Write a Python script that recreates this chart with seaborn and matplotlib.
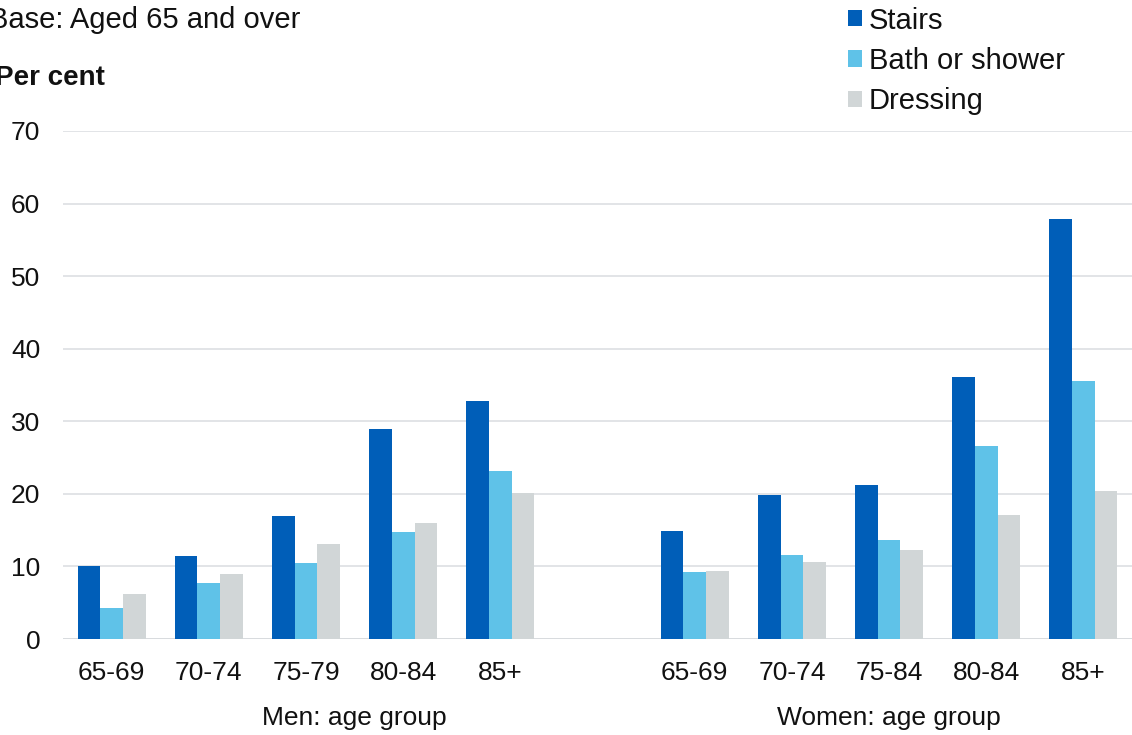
import matplotlib
matplotlib.use("Agg")
import matplotlib.pyplot as plt
import seaborn as sns
import pandas as pd

# Share of people aged 65+ who have difficulty with each activity (per cent)
men_groups = ["65-69", "70-74", "75-79", "80-84", "85+"]
women_groups = ["65-69", "70-74", "75-84", "80-84", "85+"]
activities = ["Stairs", "Bath or shower", "Dressing"]

men_stairs = [10.1, 11.5, 17.0, 28.9, 32.8]
men_bath = [4.3, 7.7, 10.5, 14.7, 23.2]
men_dressing = [6.2, 8.9, 13.1, 16.0, 20.1]

women_stairs = [14.9, 19.8, 21.2, 36.1, 57.9]
women_bath = [9.3, 11.6, 13.6, 26.6, 35.5]
women_dressing = [9.4, 10.6, 12.3, 17.1, 20.4]

colors = ["#005EB8", "#5FC2E8", "#D1D6D7"]

# Long-format table; each bar slot gets a unique key so both sexes share one axis
rows = []
for sex, groups, series in [
    ("Men", men_groups, [men_stairs, men_bath, men_dressing]),
    ("Women", women_groups, [women_stairs, women_bath, women_dressing]),
]:
    for act, vals in zip(activities, series):
        for g, v in zip(groups, vals):
            rows.append({"slot": f"{sex} {g}", "activity": act, "value": v})
df = pd.DataFrame(rows)

order = [f"Men {g}" for g in men_groups] + ["gap"] + [f"Women {g}" for g in women_groups]
tick_labels = men_groups + [""] + women_groups

sns.set_theme(style="white")
plt.rcParams["font.family"] = ["Liberation Sans", "DejaVu Sans"]

fig = plt.figure(figsize=(11.32, 7.35), dpi=100)
ax = fig.add_axes([0.0557, 0.1306, 0.9443, 0.6912])

sns.barplot(
    data=df, x="slot", y="value", hue="activity",
    order=order, hue_order=activities, palette=colors,
    width=0.7, saturation=1, ax=ax, legend=True,
    linewidth=0, errorbar=None,
)

ax.set_ylim(0, 70)
ax.set_xlim(-0.5, len(order) - 0.5)
ax.set_yticks(range(0, 71, 10))
ax.yaxis.grid(True, color="#DADDE0", linewidth=1.1)
ax.set_axisbelow(True)
for s in ax.spines.values():
    s.set_visible(False)
ax.axhline(0, color="#D0D3D6", linewidth=1.3, zorder=0)

ax.set_xticks(range(len(order)))
ax.set_xticklabels(tick_labels)
ax.tick_params(axis="both", length=0, labelsize=19, labelcolor="#111111")
ax.tick_params(axis="x", pad=16)
ax.tick_params(axis="y", pad=16.5)
ax.set_xlabel("")
ax.set_ylabel("")

# Group captions under each block of age bands
ax.text(2.5, -0.155, "Men: age group", transform=ax.get_xaxis_transform(),
        ha="center", va="center", fontsize=19, color="#111111")
ax.text(8.0, -0.155, "Women: age group", transform=ax.get_xaxis_transform(),
        ha="center", va="center", fontsize=19, color="#111111")

fig.text(-11 / 1132, 1 - 20 / 735, "Base: Aged 65 and over", ha="left", va="center",
         fontsize=21, color="#111111")
fig.text(-5 / 1132, 1 - 78 / 735, "Per cent", ha="left", va="center",
         fontsize=20, fontweight="bold", color="#111111")

handles, labels = ax.get_legend_handles_labels()
ax.legend_.remove()
fig.legend(handles, labels, loc="upper left", bbox_to_anchor=(836 / 1132, 1 + 5 / 735),
           frameon=False, fontsize=21, handlelength=0.48, handleheight=0.48,
           handletextpad=0.24, labelspacing=0.42, borderaxespad=0, labelcolor="#111111")

fig.savefig("out.png", dpi=100)
